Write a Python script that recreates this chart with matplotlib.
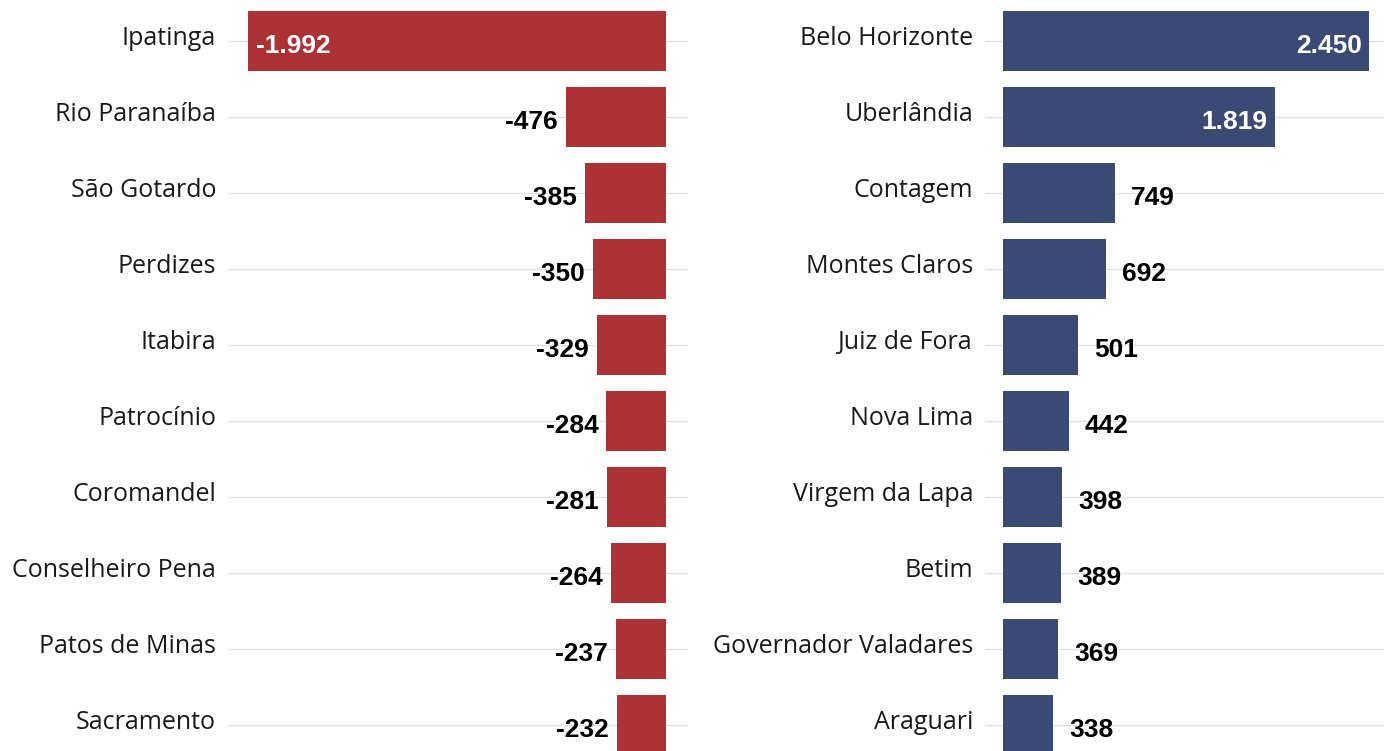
import matplotlib.pyplot as plt

left_names = ['Ipatinga', 'Rio Paranaíba', 'São Gotardo', 'Perdizes', 'Itabira',
              'Patrocínio', 'Coromandel', 'Conselheiro Pena', 'Patos de Minas', 'Sacramento']
left_values = [-1992, -476, -385, -350, -329, -284, -281, -264, -237, -232]

right_names = ['Belo Horizonte', 'Uberlândia', 'Contagem', 'Montes Claros', 'Juiz de Fora',
               'Nova Lima', 'Virgem da Lapa', 'Betim', 'Governador Valadares', 'Araguari']
right_values = [2450, 1819, 749, 692, 501, 442, 398, 389, 369, 338]

red = '#ad3236'
blue = '#3a4a75'
W, H = 1384, 751


def fmt(v):
    return f'{v:,}'.replace(',', '.')


def panel(ax, names, values, color, xlim, inside_limit):
    pos = list(range(len(names)))
    ax.barh(pos, values, height=0.8, color=color, zorder=2)
    ax.set_xlim(*xlim)
    ax.set_ylim(9.342, -0.539)
    ax.set_yticks(pos)
    ax.set_yticklabels([])
    ax.set_xticks([])
    ax.tick_params(length=0)
    ax.grid(axis='y', color='#e2e2e2', linewidth=1)
    ax.set_axisbelow(True)
    for s in ax.spines.values():
        s.set_visible(False)
    for p, name, v in zip(pos, names, values):
        ax.annotate(name, xy=(0, p), xycoords=('axes fraction', 'data'),
                    xytext=(-8.6, 1.6), textcoords='offset points',
                    ha='right', va='center', fontsize=18,
                    family='Open Sans', color='#1a1a1a')
        big = abs(v) >= inside_limit
        if v < 0:
            if big:
                ha, dx, c = 'left', 5.8, 'white'
            else:
                ha, dx, c = 'right', -5.8, 'black'
        else:
            if big:
                ha, dx, c = 'right', -5.0, 'white'
            else:
                ha, dx, c = 'left', 11.5, 'black'
        ax.annotate(fmt(v), xy=(v, p), xytext=(dx, -3.4), textcoords='offset points',
                    ha=ha, va='center', fontsize=19, fontweight='bold',
                    family='Liberation Sans', color=c)


fig = plt.figure(figsize=(W / 100, H / 100), dpi=100)
ax1 = fig.add_axes([228 / W, 0, (688 - 228) / W, 1])
ax2 = fig.add_axes([985 / W, 0, (1384 - 985) / W, 1])

panel(ax1, left_names, left_values, red, (-2087, 105), 1000)
panel(ax2, right_names, right_values, blue, (-120, 2550), 1000)

fig.savefig('out.png', dpi=100)
